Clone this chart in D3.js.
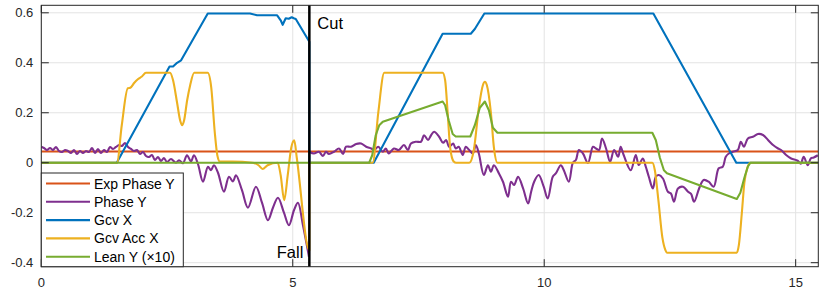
<!DOCTYPE html>
<html><head><meta charset="utf-8">
<script src="https://cdn.jsdelivr.net/npm/d3@7"></script>
<style>body{margin:0;background:#fff}svg{display:block}text{font-family:"Liberation Sans",Arial,Helvetica,sans-serif}</style>
</head><body>
<svg id="c" width="830" height="290"></svg>
<script>
// ---- data ----
const xTicks = [0, 5, 10, 15];
const yTicks = [-0.4, -0.2, 0, 0.2, 0.4, 0.6];
const yTickLabels = ["-0.4", "-0.2", "0", "0.2", "0.4", "0.6"];
const seriesNames = ["Exp Phase Y", "Phase Y", "Gcv X", "Gcv Acc X", "Lean Y (\u00d710)"];
const seriesColors = ["#D95319", "#7E2F8E", "#0072BD", "#EDB120", "#77AC30"];
const cutTime = 5.33;

const expPhaseX = [0, 15.45];
const expPhaseY = [0.045, 0.045];

const phaseX = [0,0.054,0.113,0.173,0.233,0.292,0.352,0.411,0.471,0.531,0.590,0.650,0.710,0.769,0.829,0.889,0.948,1.008,1.068,1.127,1.187,1.247,1.306,1.366,1.426,1.485,1.545,1.604,1.664,1.724,1.783,1.843,1.903,1.962,2.022,2.082,2.141,2.201,2.260,2.320,2.380,2.439,2.499,2.579,2.678,2.738,2.817,2.897,2.976,3.036,3.115,3.215,3.314,3.374,3.433,3.513,3.632,3.732,3.811,3.871,3.990,4.109,4.268,4.388,4.507,4.606,4.706,4.825,4.924,5.024,5.103,5.203,5.322,
  5.33,5.42,5.52,5.60,5.66,5.72,5.82,5.92,6.00,6.06,6.16,6.26,6.36,6.46,6.56,6.62,6.70,6.79,6.85,6.91,7.01,7.11,7.21,7.29,7.35,7.45,7.55,7.61,7.69,7.75,7.81,7.91,7.99,8.05,8.11,8.19,8.24,8.30,8.38,8.44,8.50,8.58,8.64,8.70,8.80,8.88,8.94,9.00,9.10,9.18,9.28,9.34,9.40,9.48,9.58,9.68,9.74,9.80,9.89,9.99,10.07,10.17,10.23,10.33,10.39,10.49,10.57,10.63,10.69,10.77,10.87,10.97,11.03,11.09,11.15,11.23,11.31,11.39,11.47,11.52,11.58,11.72,11.82,11.88,11.96,12.02,12.08,12.16,12.22,12.28,12.36,12.46,12.52,12.58,12.66,12.76,12.86,12.92,12.98,13.08,13.17,13.27,13.37,13.47,13.55,13.61,13.67,13.75,13.85,13.91,13.97,14.05,14.15,14.25,14.35,14.45,14.55,14.65,14.71,14.81,14.91,15.04,15.10,15.16,15.24,15.30,15.36,15.44];
const phaseY = [0.064,0.059,0.051,0.059,0.051,0.063,0.047,0.043,0.051,0.047,0.039,0.051,0.035,0.047,0.039,0.047,0.043,0.059,0.039,0.055,0.039,0.051,0.043,0.063,0.055,0.063,0.071,0.067,0.079,0.063,0.055,0.047,0.051,0.035,0.043,0.027,0.023,0.031,0.011,0.023,0.007,0.019,0.003,0.015,0.0,0.01,-0.002,0.03,0.005,0.03,-0.005,-0.076,-0.016,-0.03,-0.01,-0.04,-0.116,-0.056,-0.075,-0.05,-0.11,-0.18,-0.096,-0.16,-0.23,-0.18,-0.14,-0.2,-0.25,-0.19,-0.16,-0.25,-0.376,
  0.044,0.037,0.044,0.027,0.044,0.035,0.044,0.057,0.035,0.064,0.064,0.075,0.077,0.064,0.057,0.051,0.064,0.044,0.057,0.037,0.057,0.051,0.071,0.051,0.077,0.084,0.084,0.11,0.091,0.11,0.124,0.104,0.08,0.091,0.064,0.077,0.057,0.064,0.031,0.064,0.053,0.037,0.071,0.037,-0.049,-0.01,-0.036,-0.01,-0.043,-0.076,-0.136,-0.076,-0.089,-0.056,-0.103,-0.163,-0.116,-0.076,-0.049,-0.096,-0.143,-0.056,-0.043,-0.01,-0.03,-0.076,0.0,0.011,0.051,0.037,-0.001,0.064,0.057,0.051,0.097,0.057,0.004,0.051,0.024,0.064,0.031,-0.03,0.031,-0.009,0.017,-0.016,-0.056,-0.103,-0.056,-0.049,-0.063,-0.116,-0.123,-0.156,-0.103,-0.096,-0.116,-0.125,-0.156,-0.103,-0.069,-0.076,-0.096,-0.022,-0.016,0.024,0.037,0.044,0.051,0.084,0.064,0.097,0.104,0.115,0.111,0.091,0.071,0.057,0.051,0.031,0.017,0.008,-0.004,0.024,-0.01,0.017,0.021,0.03];
// index where the second Phase Y segment (after the cut) begins
const phaseBreak = 73;

const gcvX = [0,1.50,2.55,2.62,2.70,2.78,3.31,4.15,4.29,4.69,4.76,4.80,4.86,4.92,4.98,5.02,5.06,5.33,
  5.33,6.61,7.98,8.54,8.62,8.81,12.17,13.82,15.45];
const gcvY = [0,0,0.385,0.385,0.40,0.41,0.597,0.597,0.59,0.59,0.57,0.552,0.578,0.576,0.582,0.578,0.575,0.484,
  0,0,0.516,0.516,0.535,0.597,0.597,0,0];

const accX = [0,1.505,1.60,1.72,1.77,1.85,1.92,2.0,2.08,2.56,2.62,2.70,2.76,2.80,2.84,2.90,2.96,3.04,3.31,3.38,3.45,3.50,3.55,3.8,4.2,4.32,4.40,4.50,4.70,4.76,4.83,4.90,4.97,5.03,5.08,5.33,
  5.33,6.59,6.70,6.82,7.98,8.03,8.08,8.13,8.20,8.25,8.51,8.60,8.70,8.78,8.82,8.86,8.94,9.00,9.07,12.15,12.20,12.27,12.35,12.41,12.44,13.83,13.87,13.93,13.98,14.04,14.10,15.45];
const accY = [0,0,0.15,0.298,0.30,0.32,0.334,0.345,0.36,0.36,0.33,0.24,0.17,0.15,0.17,0.25,0.31,0.36,0.36,0.30,0.12,0.03,0.005,0.005,0.0,-0.01,-0.025,-0.01,0.0,-0.05,-0.15,-0.05,0.06,0.09,0.02,-0.35,
  0,0,0.2,0.36,0.36,0.33,0.2,0.06,0.005,0,0,0.05,0.22,0.31,0.324,0.31,0.2,0.06,0,0,-0.03,-0.15,-0.3,-0.35,-0.36,-0.36,-0.33,-0.2,-0.08,-0.02,0,0];

const leanX = [0,6.52,6.58,6.65,6.72,6.79,7.98,8.03,8.10,8.18,8.24,8.53,8.62,8.72,8.82,8.90,8.98,9.07,12.15,12.22,12.30,12.38,12.44,13.83,13.90,13.98,14.05,14.10,15.45];
const leanY = [0,0,0.03,0.11,0.15,0.164,0.245,0.23,0.17,0.115,0.105,0.105,0.15,0.22,0.245,0.21,0.14,0.12,0.12,0.09,0.02,-0.03,-0.042,-0.145,-0.12,-0.06,-0.015,0,0];

// ---- chart ----
const L = 41.3, R = 818.3, T = 5.3, B = 266.7;
const x = d3.scaleLinear().domain([0, 15.45]).range([L, R]);
const y = d3.scaleLinear().domain([-0.416, 0.63]).range([B, T]);
const svg = d3.select("#c");
const axisColor = "#262626";

// grid
const g = svg.append("g");
g.selectAll(".gx").data(xTicks).enter().append("line")
  .attr("x1", d => x(d)).attr("x2", d => x(d)).attr("y1", T).attr("y2", B)
  .attr("stroke", "#e3e3e3").attr("stroke-width", 1);
g.selectAll(".gy").data(yTicks).enter().append("line")
  .attr("x1", L).attr("x2", R).attr("y1", d => y(d)).attr("y2", d => y(d))
  .attr("stroke", "#e3e3e3").attr("stroke-width", 1);

// data lines
function pts(xs, ys, a, b) {
  const out = [];
  for (let i = (a || 0); i < (b === undefined ? xs.length : b); i++) out.push([xs[i], ys[i]]);
  return out;
}
svg.append("clipPath").attr("id", "clip").append("rect")
  .attr("x", L).attr("y", T).attr("width", R - L).attr("height", B - T);
const lines = svg.append("g").attr("clip-path", "url(#clip)");
function draw(data, color, curve) {
  const ln = d3.line().x(d => x(d[0])).y(d => y(d[1])).curve(curve || d3.curveLinear);
  lines.append("path").datum(data).attr("d", ln).attr("fill", "none")
    .attr("stroke", color).attr("stroke-width", 2.1).attr("stroke-linejoin", "round");
}
draw(pts(expPhaseX, expPhaseY), seriesColors[0]);
draw(pts(phaseX, phaseY, 0, phaseBreak), seriesColors[1], d3.curveCatmullRom.alpha(0.5));
draw(pts(phaseX, phaseY, phaseBreak), seriesColors[1], d3.curveCatmullRom.alpha(0.5));
draw(pts(gcvX, gcvY), seriesColors[2]);
draw(pts(accX, accY), seriesColors[3], d3.curveMonotoneX);
draw(pts(leanX, leanY), seriesColors[4]);

// cut line
svg.append("line").attr("x1", x(cutTime)).attr("x2", x(cutTime)).attr("y1", T).attr("y2", B)
  .attr("stroke", "#000").attr("stroke-width", 2.5);
svg.append("text").attr("x", x(cutTime) + 8).attr("y", 29).attr("font-size", 16.5).attr("fill", "#000").text("Cut");
svg.append("text").attr("x", x(cutTime) - 6).attr("y", 258).attr("text-anchor", "end").attr("font-size", 16.5).attr("fill", "#000").text("Fall");

// axes box
const ax = svg.append("g");
ax.append("rect").attr("x", L).attr("y", T).attr("width", R - L).attr("height", B - T)
  .attr("fill", "none").attr("stroke", axisColor).attr("stroke-width", 1);
const tl = 7.5;
ax.selectAll(".tb").data(xTicks).enter().append("line")
  .attr("x1", d => x(d)).attr("x2", d => x(d)).attr("y1", B).attr("y2", B - tl).attr("stroke", axisColor);
ax.selectAll(".tt").data(xTicks).enter().append("line")
  .attr("x1", d => x(d)).attr("x2", d => x(d)).attr("y1", T).attr("y2", T + tl).attr("stroke", axisColor);
ax.selectAll(".tl").data(yTicks).enter().append("line")
  .attr("x1", L).attr("x2", L + tl).attr("y1", d => y(d)).attr("y2", d => y(d)).attr("stroke", axisColor);
ax.selectAll(".tr").data(yTicks).enter().append("line")
  .attr("x1", R).attr("x2", R - tl).attr("y1", d => y(d)).attr("y2", d => y(d)).attr("stroke", axisColor);
ax.selectAll(".xl").data(xTicks).enter().append("text")
  .attr("x", d => x(d)).attr("y", 287).attr("text-anchor", "middle").attr("font-size", 13)
  .attr("fill", axisColor).text(d => d);
ax.selectAll(".yl").data(yTicks).enter().append("text")
  .attr("x", L - 8).attr("y", d => y(d) + 4.5).attr("text-anchor", "end").attr("font-size", 13)
  .attr("fill", axisColor).text((d, i) => yTickLabels[i]);

// legend
const lg = svg.append("g");
lg.append("rect").attr("x", L).attr("y", 173).attr("width", 142).attr("height", B - 173)
  .attr("fill", "#fff").attr("stroke", axisColor).attr("stroke-width", 1);
seriesNames.forEach((n, i) => {
  const yy = 183.5 + i * 18.3;
  lg.append("line").attr("x1", 46).attr("x2", 90).attr("y1", yy).attr("y2", yy)
    .attr("stroke", seriesColors[i]).attr("stroke-width", 2.1);
  lg.append("text").attr("x", 94).attr("y", yy + 5).attr("font-size", 14).attr("fill", "#000").text(n);
});
</script>
</body></html>
